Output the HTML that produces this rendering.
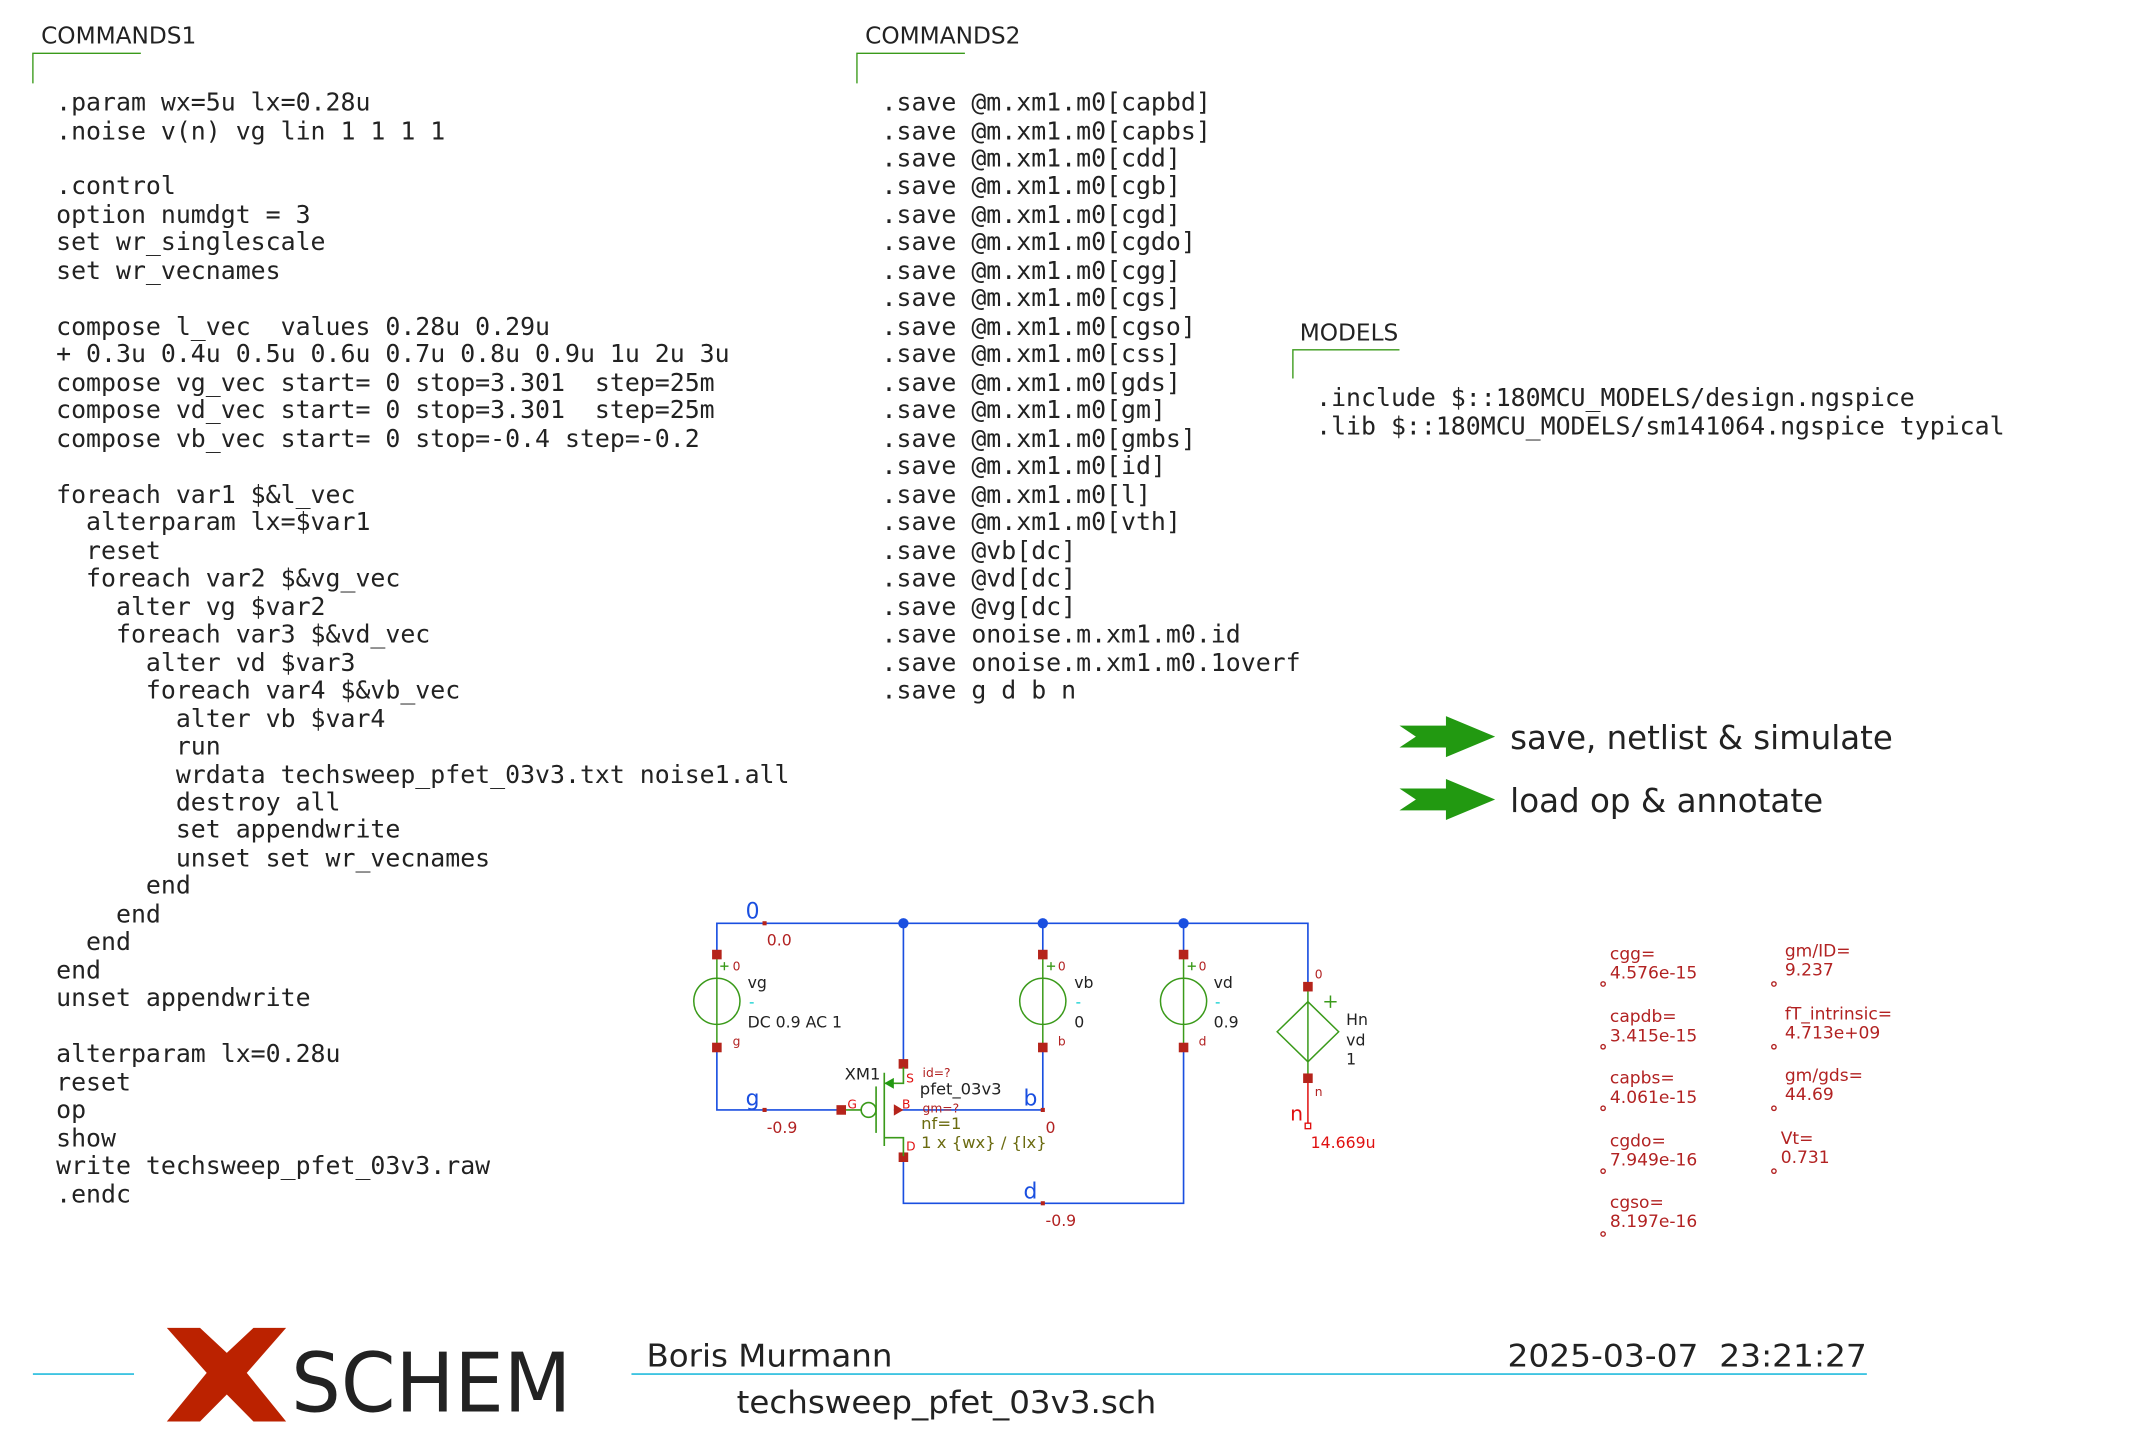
<!DOCTYPE html>
<html><head><meta charset="utf-8">
<style>
html,body{margin:0;padding:0;background:#fff;}
svg{display:block;}
.m{font-family:"DejaVu Sans Mono","Liberation Mono",monospace;font-size:18.2px;fill:#222;}
.s{font-family:"DejaVu Sans","Liberation Sans",sans-serif;}
.t{font-family:"DejaVu Sans","Liberation Sans",sans-serif;font-size:17px;fill:#222;}
.an{font-family:"DejaVu Sans","Liberation Sans",sans-serif;font-size:12.5px;fill:#b22222;}
.pin{fill:#b5241b;}
</style></head><body>
<svg width="2143" height="1452" viewBox="0 0 1568 1062.5" xmlns="http://www.w3.org/2000/svg">
<rect width="1568" height="1062.5" fill="#fff"/>

<text x="30" y="32" class="t">COMMANDS1</text>
<path d="M24,61 V39 H103" stroke="#3a9a1a" stroke-width="1" fill="none"/>
<text x="633" y="32" class="t">COMMANDS2</text>
<path d="M627,61 V39 H706" stroke="#3a9a1a" stroke-width="1" fill="none"/>
<text x="951" y="249" class="t">MODELS</text>
<path d="M946,277 V256 H1024" stroke="#3a9a1a" stroke-width="1" fill="none"/>

<g class="m">
<text x="41" y="81">.param wx=5u lx=0.28u</text>
<text x="41" y="102">.noise v(n) vg lin 1 1 1 1</text>
<text x="41" y="142">.control</text>
<text x="41" y="163">option numdgt = 3</text>
<text x="41" y="183">set wr_singlescale</text>
<text x="41" y="204">set wr_vecnames</text>
<text x="41" y="245">compose l_vec &#160;values 0.28u 0.29u</text>
<text x="41" y="265">+ 0.3u 0.4u 0.5u 0.6u 0.7u 0.8u 0.9u 1u 2u 3u</text>
<text x="41" y="286">compose vg_vec start= 0 stop=3.301 &#160;step=25m</text>
<text x="41" y="306">compose vd_vec start= 0 stop=3.301 &#160;step=25m</text>
<text x="41" y="327">compose vb_vec start= 0 stop=-0.4 step=-0.2</text>
<text x="41" y="368">foreach var1 $&amp;l_vec</text>
<text x="41" y="388">&#160;&#160;alterparam lx=$var1</text>
<text x="41" y="409">&#160;&#160;reset</text>
<text x="41" y="429">&#160;&#160;foreach var2 $&amp;vg_vec</text>
<text x="41" y="450">&#160;&#160;&#160;&#160;alter vg $var2</text>
<text x="41" y="470">&#160;&#160;&#160;&#160;foreach var3 $&amp;vd_vec</text>
<text x="41" y="491">&#160;&#160;&#160;&#160;&#160;&#160;alter vd $var3</text>
<text x="41" y="511">&#160;&#160;&#160;&#160;&#160;&#160;foreach var4 $&amp;vb_vec</text>
<text x="41" y="532">&#160;&#160;&#160;&#160;&#160;&#160;&#160;&#160;alter vb $var4</text>
<text x="41" y="552">&#160;&#160;&#160;&#160;&#160;&#160;&#160;&#160;run</text>
<text x="41" y="573">&#160;&#160;&#160;&#160;&#160;&#160;&#160;&#160;wrdata techsweep_pfet_03v3.txt noise1.all</text>
<text x="41" y="593">&#160;&#160;&#160;&#160;&#160;&#160;&#160;&#160;destroy all</text>
<text x="41" y="613">&#160;&#160;&#160;&#160;&#160;&#160;&#160;&#160;set appendwrite</text>
<text x="41" y="634">&#160;&#160;&#160;&#160;&#160;&#160;&#160;&#160;unset set wr_vecnames</text>
<text x="41" y="654">&#160;&#160;&#160;&#160;&#160;&#160;end</text>
<text x="41" y="675">&#160;&#160;&#160;&#160;end</text>
<text x="41" y="695">&#160;&#160;end</text>
<text x="41" y="716">end</text>
<text x="41" y="736">unset appendwrite</text>
<text x="41" y="777">alterparam lx=0.28u</text>
<text x="41" y="798">reset</text>
<text x="41" y="818">op</text>
<text x="41" y="839">show</text>
<text x="41" y="859">write techsweep_pfet_03v3.raw</text>
<text x="41" y="880">.endc</text>
</g>

<g class="m">
<text x="645" y="81">.save @m.xm1.m0[capbd]</text>
<text x="645" y="102">.save @m.xm1.m0[capbs]</text>
<text x="645" y="122">.save @m.xm1.m0[cdd]</text>
<text x="645" y="142">.save @m.xm1.m0[cgb]</text>
<text x="645" y="163">.save @m.xm1.m0[cgd]</text>
<text x="645" y="183">.save @m.xm1.m0[cgdo]</text>
<text x="645" y="204">.save @m.xm1.m0[cgg]</text>
<text x="645" y="224">.save @m.xm1.m0[cgs]</text>
<text x="645" y="245">.save @m.xm1.m0[cgso]</text>
<text x="645" y="265">.save @m.xm1.m0[css]</text>
<text x="645" y="286">.save @m.xm1.m0[gds]</text>
<text x="645" y="306">.save @m.xm1.m0[gm]</text>
<text x="645" y="327">.save @m.xm1.m0[gmbs]</text>
<text x="645" y="347">.save @m.xm1.m0[id]</text>
<text x="645" y="368">.save @m.xm1.m0[l]</text>
<text x="645" y="388">.save @m.xm1.m0[vth]</text>
<text x="645" y="409">.save @vb[dc]</text>
<text x="645" y="429">.save @vd[dc]</text>
<text x="645" y="450">.save @vg[dc]</text>
<text x="645" y="470">.save onoise.m.xm1.m0.id</text>
<text x="645" y="491">.save onoise.m.xm1.m0.1overf</text>
<text x="645" y="511">.save g d b n</text>
<text x="963" y="297">.include $::180MCU_MODELS/design.ngspice</text>
<text x="963" y="318">.lib $::180MCU_MODELS/sm141064.ngspice typical</text>
</g>

<polygon points="1024,531 1058,531 1058,524 1094,539 1058,554 1058,547 1024,547 1036,539" fill="#229911"/>
<polygon points="1024,577 1058,577 1058,570 1094,585 1058,600 1058,593 1024,593 1036,585" fill="#229911"/>
<text x="1105" y="548" class="s" font-size="24" fill="#222" textLength="280" lengthAdjust="spacingAndGlyphs">save, netlist &amp; simulate</text>
<text x="1105" y="594" class="s" font-size="24" fill="#222" textLength="229" lengthAdjust="spacingAndGlyphs">load op &amp; annotate</text>

<g stroke="#1a4fe0" stroke-width="1.2" fill="none">
<path d="M524.5,698 V675.6 H957 V720"/>
<path d="M661,778 V675.6"/>
<path d="M763,698 V675.6"/>
<path d="M866,698 V675.6"/>
<path d="M524.5,767 V812.2 H615.5"/>
<path d="M654,812.2 H763 V767"/>
<path d="M661,847 V880.5 H866 V767"/>
</g>
<g fill="#1a4fe0">
<circle cx="661" cy="675.6" r="3.8"/><circle cx="763" cy="675.6" r="3.8"/><circle cx="866" cy="675.6" r="3.8"/>
</g>

<g stroke="#3a9a1a" stroke-width="1.1" fill="none">
<path d="M524.5,699 V767"/><circle cx="524.5" cy="732.7" r="16.9"/>
<path d="M763,699 V767"/><circle cx="763" cy="732.7" r="16.9"/>
<path d="M866,699 V767"/><circle cx="866" cy="732.7" r="16.9"/>
<path d="M957,722 V789"/><polygon points="957,733 979.5,755 957,777 934.5,755"/>
<path d="M969,733 h9 M973.5,728.5 v9"/>
</g>
<g stroke="#3a9a1a" stroke-width="1" fill="none">
<path d="M527,707 h6 M530,704 v6"/>
<path d="M766,707 h6 M769,704 v6"/>
<path d="M869,707 h6 M872,704 v6"/>
</g>
<path d="M957,789 V823" stroke="#e01010" stroke-width="1.1"/>
<rect x="955" y="821.9" width="4" height="4" fill="#fff" stroke="#e01010" stroke-width="1"/>

<g class="pin">
<rect x="521" y="695" width="7" height="7"/><rect x="521" y="763" width="7" height="7"/>
<rect x="759.5" y="695" width="7" height="7"/><rect x="759.5" y="763" width="7" height="7"/>
<rect x="862.5" y="695" width="7" height="7"/><rect x="862.5" y="763" width="7" height="7"/>
<rect x="953.5" y="718.5" width="7" height="7"/><rect x="953.5" y="785.5" width="7" height="7"/>
<rect x="657.5" y="775" width="7" height="7"/><rect x="657.5" y="843.3" width="7" height="7"/>
<rect x="612" y="808.7" width="7" height="7"/>
<rect x="557.9" y="674.1" width="3" height="3"/><rect x="557.9" y="810.7" width="3" height="3"/>
<rect x="761.5" y="810.7" width="3" height="3"/><rect x="761.5" y="879" width="3" height="3"/>
</g>

<g stroke="#3a9a1a" stroke-width="1.2" fill="none">
<path d="M619,812.2 H630"/><circle cx="635.5" cy="812.2" r="5.4"/>
<path d="M641,795 V829"/>
<path d="M647,785 V838.6"/>
<path d="M647,792.7 H661 V781"/>
<path d="M647,832.5 H661 V846"/>
</g>
<polygon points="647,792.7 654,788.7 654,796.7" fill="#229911"/>
<polygon points="661,812.2 654,808 654,816.4" fill="#b5241b"/>

<g class="s">
<text x="550.6" y="672" font-size="16" fill="#1a4fe0" text-anchor="middle">0</text>
<text x="561" y="692" font-size="11.5" fill="#b22222">0.0</text>
<text x="550.6" y="809" font-size="16" fill="#1a4fe0" text-anchor="middle">g</text>
<text x="561" y="829" font-size="11.5" fill="#b22222">-0.9</text>
<text x="754" y="809" font-size="16" fill="#1a4fe0" text-anchor="middle">b</text>
<text x="765" y="829" font-size="11.5" fill="#b22222">0</text>
<text x="754" y="877" font-size="16" fill="#1a4fe0" text-anchor="middle">d</text>
<text x="765" y="897" font-size="11.5" fill="#b22222">-0.9</text>
<text x="944" y="820" font-size="15" fill="#e01010">n</text>
<text x="959" y="840" font-size="11.5" fill="#e01010">14.669u</text>

<text x="536" y="710" font-size="9" fill="#b22222">0</text>
<text x="547" y="723" font-size="11.5" fill="#222">vg</text>
<text x="548" y="737" font-size="11" fill="#00cccc">-</text>
<text x="547" y="752" font-size="11.5" fill="#222">DC 0.9 AC 1</text>
<text x="536" y="765" font-size="9" fill="#b22222">g</text>

<text x="774" y="710" font-size="9" fill="#b22222">0</text>
<text x="786" y="723" font-size="11.5" fill="#222">vb</text>
<text x="787" y="737" font-size="11" fill="#00cccc">-</text>
<text x="786" y="752" font-size="11.5" fill="#222">0</text>
<text x="774" y="765" font-size="9" fill="#b22222">b</text>

<text x="877" y="710" font-size="9" fill="#b22222">0</text>
<text x="888" y="723" font-size="11.5" fill="#222">vd</text>
<text x="889" y="737" font-size="11" fill="#00cccc">-</text>
<text x="888" y="752" font-size="11.5" fill="#222">0.9</text>
<text x="877" y="765" font-size="9" fill="#b22222">d</text>

<text x="962" y="716" font-size="9" fill="#b22222">0</text>
<text x="985" y="750" font-size="11.5" fill="#222">Hn</text>
<text x="985" y="765" font-size="11.5" fill="#222">vd</text>
<text x="985" y="779" font-size="11.5" fill="#222">1</text>
<text x="962" y="802" font-size="9" fill="#b22222">n</text>

<text x="618" y="790" font-size="12" fill="#222">XM1</text>
<text x="663" y="792" font-size="9" fill="#e01010">S</text>
<text x="675" y="788" font-size="9" fill="#b22222">id=?</text>
<text x="673" y="801" font-size="12" fill="#222">pfet_03v3</text>
<text x="660" y="811" font-size="9" fill="#e01010">B</text>
<text x="675" y="814" font-size="9" fill="#b22222">gm=?</text>
<text x="674" y="826" font-size="12" fill="#6b6b10">nf=1</text>
<text x="674" y="840" font-size="12" fill="#6b6b10">1 x {wx} / {lx}</text>
<text x="663" y="842" font-size="9" fill="#e01010">D</text>
<text x="620" y="811" font-size="9" fill="#e01010">G</text>
</g>

<g class="an">
<text x="1178" y="702">cgg=</text><text x="1178" y="716">4.576e-15</text>
<text x="1178" y="748">capdb=</text><text x="1178" y="762">3.415e-15</text>
<text x="1178" y="793">capbs=</text><text x="1178" y="807">4.061e-15</text>
<text x="1178" y="839">cgdo=</text><text x="1178" y="853">7.949e-16</text>
<text x="1178" y="884">cgso=</text><text x="1178" y="898">8.197e-16</text>
<text x="1306" y="700">gm/ID=</text><text x="1306" y="714">9.237</text>
<text x="1306" y="746">fT_intrinsic=</text><text x="1306" y="760">4.713e+09</text>
<text x="1306" y="791">gm/gds=</text><text x="1306" y="805">44.69</text>
<text x="1303" y="837">Vt=</text><text x="1303" y="851">0.731</text>
</g>
<g fill="none" stroke="#b22222" stroke-width="1">
<circle cx="1173" cy="720" r="1.6"/><circle cx="1173" cy="766" r="1.6"/><circle cx="1173" cy="811" r="1.6"/><circle cx="1173" cy="857" r="1.6"/><circle cx="1173" cy="903" r="1.6"/>
<circle cx="1298" cy="720" r="1.6"/><circle cx="1298" cy="766" r="1.6"/><circle cx="1298" cy="811" r="1.6"/><circle cx="1298" cy="857" r="1.6"/>
</g>

<g stroke="#22bbdd" stroke-width="1.2">
<path d="M24,1005.5 H98"/><path d="M462,1005.5 H1366"/>
</g>
<polygon points="122,971.7 146.3,971.7 165.9,990 185.4,971.7 209.3,971.7 180.5,1004.6 209.3,1040.2 185.4,1040.2 165.9,1020.4 146.3,1040.2 122,1040.2 151.2,1004.6" fill="#bb2200"/>
<text x="213" y="1033" class="s" font-size="60" fill="#222" textLength="205" lengthAdjust="spacingAndGlyphs">SCHEM</text>
<text x="473" y="1000" class="s" font-size="23" fill="#222" textLength="180" lengthAdjust="spacingAndGlyphs">Boris Murmann</text>
<text x="1366" y="1000" class="s" font-size="23" fill="#222" text-anchor="end" textLength="263" lengthAdjust="spacingAndGlyphs">2025-03-07 &#160;23:21:27</text>
<text x="539" y="1034" class="s" font-size="23" fill="#222" textLength="307" lengthAdjust="spacingAndGlyphs">techsweep_pfet_03v3.sch</text>
</svg>
</body></html>
